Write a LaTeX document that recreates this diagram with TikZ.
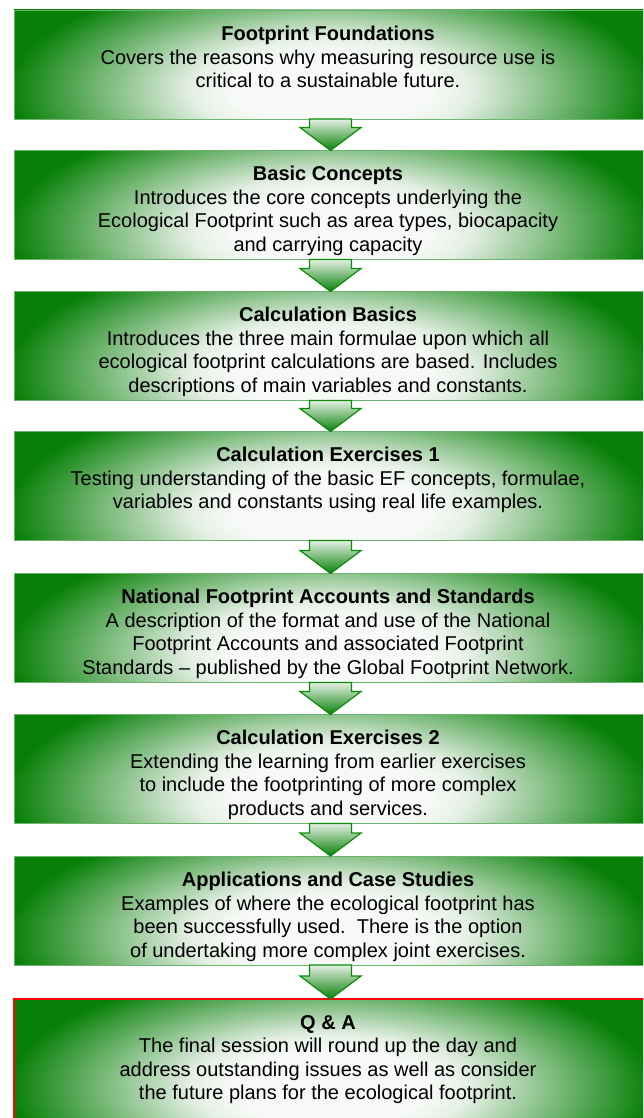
\documentclass[tikz,border=0pt]{standalone}
\usepackage{fontspec}
\setmainfont{Liberation Sans}
\usetikzlibrary{calc}

\definecolor{leaf}{RGB}{8,128,8}
\definecolor{leafedge}{RGB}{110,180,110}
\definecolor{arrowedge}{RGB}{10,140,10}
\definecolor{arrowtop}{RGB}{228,240,228}
\definecolor{glowwhite}{RGB}{246,249,246}
\definecolor{glowmid}{RGB}{228,239,228}
\pgfdeclareradialshading{boxglow}{\pgfpoint{0bp}{0bp}}{color(0bp)=(glowwhite); color(8bp)=(glowwhite); color(11bp)=(glowmid); color(25bp)=(leaf); color(50bp)=(leaf)}

\begin{document}
\begin{tikzpicture}[x=1pt,y=-1pt,
		stage box/.style={rectangle,draw=leafedge,line width=0.8pt,fill=leaf,outer sep=0pt,inner sep=0pt,
			minimum width=633pt,minimum height=109pt,
			path picture={\shade[shading=boxglow] ([xshift=-320pt,yshift=-145pt]path picture bounding box.center) rectangle ([xshift=320pt,yshift=95pt]path picture bounding box.center);}},
		stage text/.style={anchor=north,align=center,inner sep=0pt,font=\fontsize{20}{23.5}\selectfont},
		flow arrow/.style={draw=arrowedge,line width=1.2pt,top color=arrowtop,bottom color=leaf,line join=miter}]
		% page
		\useasboundingbox (0,0) rectangle (643,1118);
		\fill[white] (0,0) rectangle (643,1118);
		\clip (0,0) rectangle (643,1118);
		
		% stages
		\node[stage box] (b1) at (330.5,64.5) {};
		\node[stage box] (b2) at (330.5,205) {};
		\node[stage box] (b3) at (330.5,346) {};
		\node[stage box] (b4) at (330.5,486) {};
		\node[stage box] (b5) at (330.5,628) {};
		\node[stage box] (b6) at (330.5,769) {};
		\node[stage box] (b7) at (330.5,910.5) {};
		\node[stage box,draw=red,line width=2pt,minimum height=126pt] (b8) at (330.5,1062) {};
		
		% arrows between stages
		\foreach \up/\down in {b1/b2,b2/b3,b3/b4,b4/b5,b5/b6,b6/b7,b7/b8}
		\draw[flow arrow] ($(\up.south)+(-21,0)$) -- ($(\down.north)+(-21,-23)$) -- ++(-9.5,0) -- (\down.north)
			-- ++(30.5,-23) -- ++(-9.5,0) -- ($(\up.south)+(21,0)$) -- cycle;
		
		% texts
		\node[stage text] (t1) at (328,26) {\textbf{Footprint Foundations}\\Covers the reasons why measuring resource use is\\critical to a sustainable future.};
		\node[stage text] (t2) at (328,166) {\textbf{Basic Concepts}\\Introduces the core concepts underlying the\\Ecological Footprint such as area types, biocapacity\\and carrying capacity};
		\node[stage text] (t3) at (328,307) {\textbf{Calculation Basics}\\Introduces the three main formulae upon which all\\ecological footprint calculations are based. Includes\\descriptions of main variables and constants.};
		\node[stage text] (t4) at (328,447) {\textbf{Calculation Exercises 1}\\Testing understanding of the basic EF concepts, formulae,\\variables and constants using real life examples.};
		\node[stage text] (t5) at (328,589) {\textbf{National Footprint Accounts and Standards}\\A description of the format and use of the National\\Footprint Accounts and associated Footprint\\Standards -- published by the Global Footprint Network.};
		\node[stage text] (t6) at (328,730) {\textbf{Calculation Exercises 2}\\Extending the learning from earlier exercises\\to include the footprinting of more complex\\products and services.};
		\node[stage text] (t7) at (328,872) {\textbf{Applications and Case Studies}\\Examples of where the ecological footprint has\\been successfully used.\ \ There is the option\\of undertaking more complex joint exercises.};
		\node[stage text] (t8) at (328,1015) {\textbf{Q \& A}\\The final session will round up the day and\\address outstanding issues as well as consider\\the future plans for the ecological footprint.};
	\end{tikzpicture}
\end{document}
